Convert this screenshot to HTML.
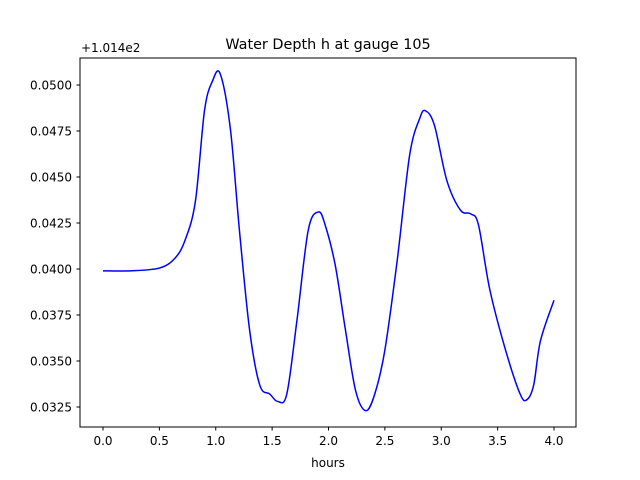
<!DOCTYPE html>
<html><head><meta charset="utf-8"><style>
body{margin:0;background:#fff;}
svg{display:block;font-family:"DejaVu Sans","Liberation Sans",sans-serif;}
</style></head><body>
<svg id="chart" width="640" height="480">
<rect width="640" height="480" fill="#fff"/>
<text x="328" y="49" text-anchor="middle" font-size="14.4">Water Depth h at gauge 105</text>
<text x="81" y="52" font-size="12">+1.014e2</text>
<g id="xt"></g>
<g id="yt"></g>
<path id="line" fill="none" stroke="#0000ff" stroke-width="1.5"/>
<rect x="80" y="58" width="496" height="369" fill="none" stroke="#000" stroke-width="1"/>
<text x="328" y="467" text-anchor="middle" font-size="12">hours</text>
</svg>
<script>
const hours=[0,0.24,0.5,0.64,0.73,0.82,0.9,0.97,1.04,1.13,1.21,1.3,1.39,1.48,1.55,1.63,1.72,1.82,1.91,1.97,2.06,2.15,2.24,2.33,2.41,2.5,2.61,2.72,2.81,2.86,2.94,3.05,3.17,3.26,3.33,3.43,3.57,3.7,3.76,3.82,3.88,4.0];
const depth=[0.0399,0.0399,0.04005,0.0406,0.0416,0.0437,0.0486,0.0502,0.0506,0.0476,0.0421,0.0367,0.0337,0.0332,0.0328,0.0332,0.0372,0.0421,0.0431,0.0424,0.0402,0.0367,0.0334,0.0323,0.0332,0.0356,0.0405,0.0462,0.0482,0.0486,0.0478,0.0448,0.0432,0.0430,0.0424,0.0389,0.0356,0.0332,0.0329,0.0337,0.0361,0.0383];
const xTicks=[0,0.5,1,1.5,2,2.5,3,3.5,4];
const xTickLabels=["0.0","0.5","1.0","1.5","2.0","2.5","3.0","3.5","4.0"];
const yTicks=[0.0325,0.035,0.0375,0.04,0.0425,0.045,0.0475,0.05];
const yTickLabels=["0.0325","0.0350","0.0375","0.0400","0.0425","0.0450","0.0475","0.0500"];
const NS="http://www.w3.org/2000/svg";
const X=h=>103+h*112.75;
const Y=v=>85+(0.05-v)/0.0025*46;
function mk(tag,attrs,parent){const e=document.createElementNS(NS,tag);for(const k in attrs)e.setAttribute(k,attrs[k]);parent.appendChild(e);return e;}
const xt=document.getElementById('xt'),yt=document.getElementById('yt');
xTicks.forEach((t,i)=>{
 const l=mk('line',{x1:X(t),x2:X(t),y1:427,y2:430.5,stroke:'#000'},xt);
 
 
 const tx=mk('text',{x:X(t),y:445,'text-anchor':'middle','font-size':12},xt);
 tx.textContent=xTickLabels[i];
 
 
});
yTicks.forEach((t,i)=>{
 const l=mk('line',{x1:76.5,x2:80,y1:Y(t),y2:Y(t),stroke:'#000'},yt);
 
 
 const tx=mk('text',{x:72,y:Y(t)+4.5,'text-anchor':'end','font-size':12},yt);
 tx.textContent=yTickLabels[i];
 
 
});
const P=hours.map((h,i)=>[X(h),Y(depth[i])]);
let d='M'+P[0][0]+','+P[0][1];
for(let i=0;i<P.length-1;i++){
 const p0=P[Math.max(0,i-1)],p1=P[i],p2=P[i+1],p3=P[Math.min(P.length-1,i+2)];
 const c1=[p1[0]+(p2[0]-p0[0])/6,p1[1]+(p2[1]-p0[1])/6];
 const c2=[p2[0]-(p3[0]-p1[0])/6,p2[1]-(p3[1]-p1[1])/6];
 d+=` C${c1[0]},${c1[1]} ${c2[0]},${c2[1]} ${p2[0]},${p2[1]}`;
}
document.getElementById('line').setAttribute('d',d);
</script>
</body></html>
